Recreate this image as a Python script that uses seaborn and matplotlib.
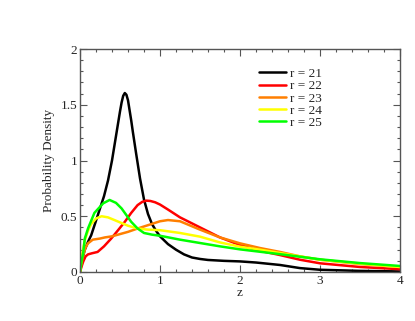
import matplotlib
matplotlib.use("Agg")
import matplotlib.pyplot as plt
import seaborn as sns
import pandas as pd
from matplotlib.ticker import MultipleLocator

sns.set_style("white")
plt.rcParams['font.family'] = ['Liberation Serif', 'DejaVu Serif']

labels = ["r = 21", "r = 22", "r = 23", "r = 24", "r = 25"]
colors = ["#000000", "#ff0000", "#ff7f00", "#ffff00", "#00ff00"]

x21 = [0, 0.03, 0.06, 0.1, 0.14, 0.2, 0.25, 0.3, 0.35, 0.4, 0.45, 0.5, 0.52, 0.54, 0.56,
       0.58, 0.6, 0.62, 0.64, 0.66, 0.7, 0.75, 0.8, 0.85, 0.9, 0.95, 1.0, 1.1, 1.2, 1.3,
       1.4, 1.5, 1.6, 1.8, 2.0, 2.2, 2.5, 2.75, 3.0, 3.5, 4.0]
y21 = [0, 0.12, 0.2, 0.27, 0.33, 0.46, 0.57, 0.68, 0.82, 1.0, 1.22, 1.44, 1.52, 1.58, 1.605,
       1.59, 1.54, 1.45, 1.36, 1.26, 1.07, 0.84, 0.65, 0.52, 0.43, 0.37, 0.32, 0.25, 0.2,
       0.158, 0.13, 0.117, 0.108, 0.1, 0.095, 0.085, 0.063, 0.035, 0.02, 0.01, 0.005]

x22 = [0, 0.02, 0.04, 0.07, 0.1, 0.15, 0.22, 0.3, 0.39, 0.47, 0.56, 0.64, 0.72, 0.78, 0.83,
       0.88, 0.94, 1.0, 1.1, 1.25, 1.5, 1.75, 2.0, 2.25, 2.5, 2.75, 3.0, 3.5, 4.0]
y22 = [0, 0.05, 0.093, 0.14, 0.158, 0.168, 0.18, 0.23, 0.30, 0.37, 0.45, 0.53, 0.60, 0.63,
       0.64, 0.637, 0.625, 0.605, 0.56, 0.49, 0.40, 0.31, 0.242, 0.19, 0.152, 0.11, 0.078,
       0.045, 0.025]

x23 = [0, 0.02, 0.04, 0.07, 0.1, 0.16, 0.25, 0.31, 0.4, 0.475, 0.6, 0.72, 0.85, 1.0, 1.1,
       1.25, 1.5, 1.75, 2.0, 2.25, 2.5, 2.75, 3.0, 3.5, 4.0]
y23 = [0, 0.09, 0.15, 0.22, 0.257, 0.29, 0.30, 0.31, 0.32, 0.335, 0.36, 0.39, 0.42, 0.455,
       0.466, 0.455, 0.38, 0.31, 0.257, 0.215, 0.18, 0.14, 0.11, 0.072, 0.045]

x24 = [0, 0.02, 0.058, 0.1, 0.14, 0.2, 0.27, 0.35, 0.43, 0.6, 0.72, 0.85, 1.0, 1.25, 1.5,
       1.75, 2.0, 2.25, 2.5, 3.0, 3.5, 4.0]
y24 = [0, 0.13, 0.28, 0.37, 0.43, 0.48, 0.50, 0.49, 0.466, 0.415, 0.39, 0.38, 0.375, 0.35,
       0.317, 0.265, 0.227, 0.2, 0.17, 0.11, 0.075, 0.045]

x25 = [0, 0.02, 0.04, 0.06, 0.1, 0.18, 0.29, 0.37, 0.45, 0.52, 0.64, 0.72, 0.8, 0.9, 1.0,
       1.25, 1.5, 1.75, 2.0, 2.5, 3.0, 3.5, 4.0]
y25 = [0, 0.1, 0.17, 0.3, 0.39, 0.53, 0.616, 0.646, 0.62, 0.57, 0.45, 0.39, 0.35, 0.335,
       0.325, 0.29, 0.26, 0.23, 0.203, 0.16, 0.114, 0.08, 0.054]

series = [(x21, y21), (x22, y22), (x23, y23), (x24, y24), (x25, y25)]
frames = []
for lab, (xs, ys) in zip(labels, series):
    frames.append(pd.DataFrame({"z": xs, "density": ys, "series": lab}))
df = pd.concat(frames, ignore_index=True)

fig = plt.figure(figsize=(4.15, 3.21), dpi=100)
ax = fig.add_axes([80/415, 1-272/321, 320/415, 223/321])

sns.lineplot(data=df, x="z", y="density", hue="series", palette=colors,
             hue_order=labels, sort=False, estimator=None, linewidth=1.8, ax=ax)
for ln in ax.get_lines():
    ln.set_solid_joinstyle("round")

ax.set_xlim(0, 4)
ax.set_ylim(0, 2)
ax.xaxis.set_major_locator(MultipleLocator(1))
ax.xaxis.set_minor_locator(MultipleLocator(0.2))
ax.yaxis.set_major_locator(MultipleLocator(0.5))
ax.yaxis.set_minor_locator(MultipleLocator(0.1))
ax.yaxis.set_major_formatter(matplotlib.ticker.FuncFormatter(lambda v, p: f"{v:g}"))
ax.tick_params(which="both", direction="in", top=True, right=True, bottom=True, left=True,
               labelsize=9.5, color="#555555", pad=2)
ax.tick_params(which="major", length=5, width=0.8)
ax.tick_params(which="minor", length=2.5, width=0.8)
for s in ax.spines.values():
    s.set_color("#555555")
    s.set_linewidth(1.0)

ax.set_xlabel("z", fontsize=9.5, labelpad=0)
ax.set_ylabel("Probability Density", fontsize=9.5, labelpad=4)

leg = ax.legend(loc="upper left", bbox_to_anchor=(0.54, 0.945), frameon=False, fontsize=9.5,
                handlelength=2.0, handletextpad=0.3, labelspacing=0.0, borderpad=0)
for line in leg.get_lines():
    line.set_linewidth(1.8)

fig.savefig("out.png", dpi=100)
